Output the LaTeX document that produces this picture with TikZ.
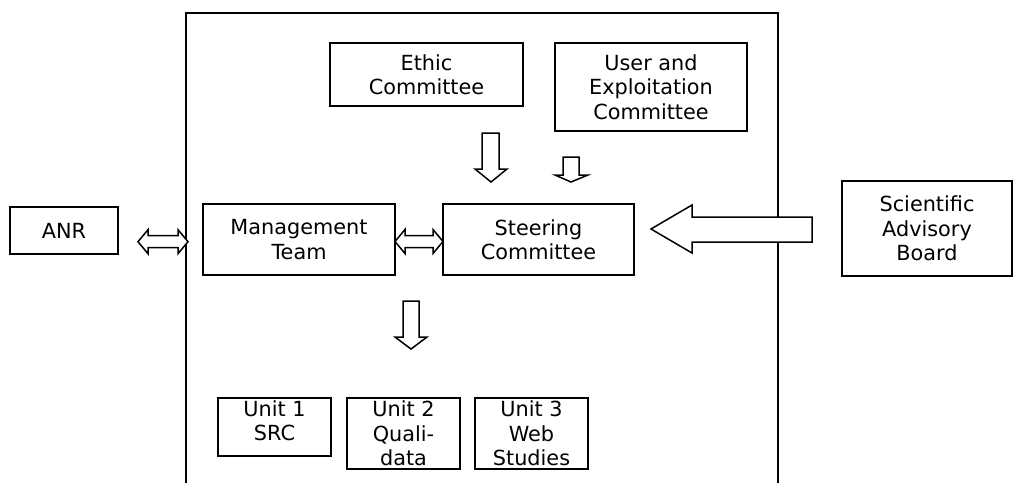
\documentclass[tikz,border=0pt]{standalone}
\usepackage{fontspec}
\setmainfont{DejaVu Sans}
\begin{document}
\begin{tikzpicture}[x=1pt,y=-1pt,
  box/.style={draw, line width=1.5pt, align=center, inner sep=0pt,
    font=\fontsize{20.8}{24.5}\selectfont},
  txt/.style={align=center, inner sep=0pt, font=\fontsize{20.8}{24.5}\selectfont},
  blockarrow/.style={draw, line width=1.5pt, fill=white, line join=miter},
  frame/.style={draw, line width=1.5pt}]
\useasboundingbox (0,0) rectangle (1024,482);
% outer frame (open at the bottom)
\coordinate (fbl) at (186,490);
\coordinate (ftl) at (186,13);
\coordinate (ftr) at (778,13);
\coordinate (fbr) at (778,490);
\draw[frame] (fbl) -- (ftl) -- (ftr) -- (fbr);
% boxes
\node[box, minimum width=193pt, minimum height=63pt] (ethic) at (426.5,74.5) {Ethic\\Committee};
\node[box, minimum width=192pt, minimum height=88pt] (user) at (651,87) {User and\\Exploitation\\Committee};
\node[box, minimum width=108pt, minimum height=47pt] (anr) at (64,230.5) {ANR};
\node[box, minimum width=192pt, minimum height=71pt] (mgmt) at (299,239.5) {Management\\Team};
\node[box, minimum width=191pt, minimum height=71pt] (steer) at (538.5,239.5) {Steering\\Committee};
\node[box, minimum width=170pt, minimum height=95pt] (sab) at (927,228.5) {Scientific\\Advisory\\Board};
\node[box, minimum width=113pt, minimum height=58pt] (u1) at (274.5,427) {};
\node[txt, anchor=north] (u1t) at (274.5,400) {Unit 1\\SRC};
\node[box, minimum width=113pt, minimum height=71pt] (u2) at (403.5,433.5) {Unit 2\\Quali-\\data};
\node[box, minimum width=113pt, minimum height=71pt] (u3) at (531.5,433.5) {Unit 3\\Web\\Studies};
% block arrows
\draw[blockarrow] (138,241.7) -- (148,229.7) -- (148,235.7) -- (178,235.7) -- (178,229.7) -- (188,241.7)
  -- (178,253.7) -- (178,247.7) -- (148,247.7) -- (148,253.7) -- cycle;
\draw[blockarrow] (395,241.5) -- (405,229.5) -- (405,235.5) -- (433,235.5) -- (433,229.5) -- (443,241.5)
  -- (433,253.5) -- (433,247.5) -- (405,247.5) -- (405,253.5) -- cycle;
\draw[blockarrow] (482,133) -- (499,133) -- (499,169) -- (507,169) -- (491,182) -- (475,169) -- (482,169) -- cycle;
\draw[blockarrow] (563,157) -- (579,157) -- (579,175) -- (588,175) -- (571,182) -- (555,175) -- (563,175) -- cycle;
\draw[blockarrow] (403,301) -- (419,301) -- (419,337) -- (427,337) -- (411,349) -- (395,337) -- (403,337) -- cycle;
\draw[blockarrow] (651,229) -- (692,205) -- (692,217) -- (812,217) -- (812,242) -- (692,242) -- (692,253) -- cycle;
\end{tikzpicture}
\end{document}
